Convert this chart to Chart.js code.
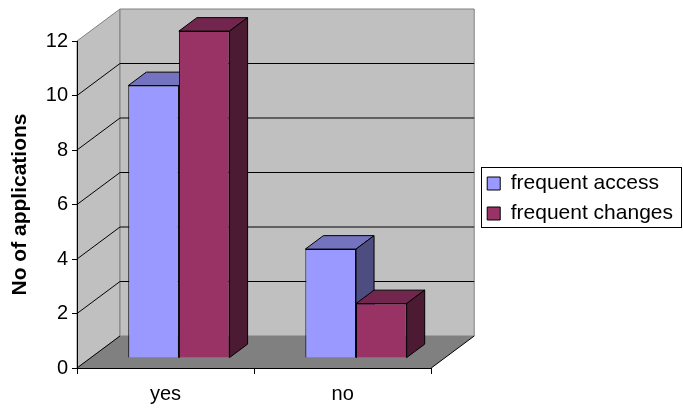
<!DOCTYPE html>
<html lang="en">
<head>
<meta charset="UTF-8">
<title>No of applications</title>
<style>
  body { margin: 0; background: #fff; }
  .chart-box { width: 683px; height: 410px; position: relative; }
</style>
<script src="https://cdn.jsdelivr.net/npm/chart.js"></script>
</head>
<body>
<div class="chart-box"><canvas id="apps-chart"></canvas></div>
<script>
const categories = ['yes', 'no'];
const seriesNames = ['frequent access', 'frequent changes'];
const frequentAccess = [10, 4];
const frequentChanges = [12, 2];
const yMin = 0, yMax = 12, yStep = 2;

// front, top and side shades of each series
const accessColors = ['#9999ff', '#7373bf', '#4d4d80'];
const changesColors = ['#993366', '#73264d', '#4d1a33'];

const FONT = "'Liberation Sans', Arial, sans-serif";
const DEPTH_X = 43, DEPTH_Y = -32;  // depth of floor and walls
const BAR_FRONT = 0.31;             // how far back the bars stand
const BAR_DEPTH = 0.42;             // how deep the bars are

Chart.defaults.font.family = FONT;
Chart.defaults.color = '#000';

function poly(ctx, pts, fill, stroke) {
    ctx.beginPath();
    ctx.moveTo(pts[0][0], pts[0][1]);
    for (let i = 1; i < pts.length; i++) ctx.lineTo(pts[i][0], pts[i][1]);
    ctx.closePath();
    if (fill) { ctx.fillStyle = fill; ctx.fill(); }
    if (stroke) { ctx.strokeStyle = stroke; ctx.lineWidth = 1; ctx.stroke(); }
}

const boxPlugin = {
    id: 'box3d',
    afterLayout(chart) {
        // lift the legend a little above centre
        chart.legend.top -= 6;
        chart.legend.bottom -= 6;
    },
    beforeDraw(chart) {
        const ctx = chart.ctx;
        const x = chart.scales.x, y = chart.scales.y;
        const x0 = x.left, x1 = x.right;
        const yb = y.getPixelForValue(yMin), yt = y.getPixelForValue(yMax);
        const dx = DEPTH_X, dy = DEPTH_Y;

        ctx.save();
        // side wall
        poly(ctx, [[x0, yb], [x0 + dx, yb + dy], [x0 + dx, yt + dy], [x0, yt]], '#c0c0c0', '#808080');
        // back wall
        poly(ctx, [[x0 + dx, yb + dy], [x1 + dx, yb + dy], [x1 + dx, yt + dy], [x0 + dx, yt + dy]], '#c0c0c0', '#808080');
        // floor
        poly(ctx, [[x0, yb], [x1, yb], [x1 + dx, yb + dy], [x0 + dx, yb + dy]], '#808080', null);
        ctx.strokeStyle = '#000';
        ctx.lineWidth = 1;
        ctx.beginPath();
        ctx.moveTo(x0, yb); ctx.lineTo(x0 + dx, yb + dy);
        ctx.moveTo(x1, yb); ctx.lineTo(x1 + dx, yb + dy);
        ctx.stroke();

        // grid lines across both walls
        ctx.beginPath();
        for (let v = yMin + yStep; v < yMax; v += yStep) {
            const py = y.getPixelForValue(v);
            ctx.moveTo(x0, py);
            ctx.lineTo(x0 + dx, py + dy);
            ctx.lineTo(x1 + dx, py + dy);
        }
        ctx.stroke();
        ctx.restore();
    },
    beforeDatasetsDraw(chart) {
        const ctx = chart.ctx;
        ctx.save();
        ctx.translate(DEPTH_X * BAR_FRONT, DEPTH_Y * BAR_FRONT);

        // top and side faces, left to right, before the fronts go on
        const bars = [];
        chart.data.datasets.forEach((ds, i) => {
            chart.getDatasetMeta(i).data.forEach(el => bars.push({ el, ds }));
        });
        bars.sort((a, b) => a.el.x - b.el.x);

        const dx = DEPTH_X * BAR_DEPTH, dy = DEPTH_Y * BAR_DEPTH;
        bars.forEach(({ el, ds }) => {
            const l = el.x - el.width / 2, r = el.x + el.width / 2;
            poly(ctx, [[l, el.y], [l + dx, el.y + dy], [r + dx, el.y + dy], [r, el.y]], ds.topColor, '#000');
            poly(ctx, [[r, el.y], [r + dx, el.y + dy], [r + dx, el.base + dy], [r, el.base]], ds.sideColor, '#000');
        });
    },
    afterDatasetsDraw(chart) {
        chart.ctx.restore();
    },
    afterDraw(chart) {
        // frame round the legend
        const boxes = chart.legend.legendHitBoxes;
        if (!boxes || !boxes.length) return;
        const first = boxes[0], last = boxes[boxes.length - 1];
        const left = Math.round(first.left) - 6 + 0.5;
        const top = Math.round(first.top) - 6 + 0.5;
        const right = chart.width - 1.5;
        const bottom = Math.round(last.top + last.height) + 3 + 0.5;
        const ctx = chart.ctx;
        ctx.save();
        ctx.strokeStyle = '#000';
        ctx.lineWidth = 1;
        ctx.strokeRect(left, top, right - left, bottom - top);
        ctx.restore();
    }
};

new Chart(document.getElementById('apps-chart'), {
    type: 'bar',
    data: {
        labels: categories,
        datasets: [{
            label: seriesNames[0],
            data: frequentAccess,
            backgroundColor: accessColors[0],
            topColor: accessColors[1],
            sideColor: accessColors[2],
            borderColor: '#000',
            borderWidth: 1,
            clip: false
        }, {
            label: seriesNames[1],
            data: frequentChanges,
            backgroundColor: changesColors[0],
            topColor: changesColors[1],
            sideColor: changesColors[2],
            borderColor: '#000',
            borderWidth: 1,
            clip: false
        }]
    },
    options: {
        responsive: true,
        maintainAspectRatio: false,
        animation: false,
        barPercentage: 1,
        categoryPercentage: 0.572,
        layout: { padding: { top: 41, left: 0, right: 0, bottom: 0 } },
        plugins: {
            tooltip: { enabled: false },
            legend: {
                position: 'right',
                fullSize: false,
                maxWidth: 240,
                labels: {
                    font: { size: 21 },
                    color: '#000',
                    boxWidth: 13,
                    boxHeight: 13,
                    padding: 9
                }
            }
        },
        scales: {
            x: {
                grid: { drawOnChartArea: false, drawTicks: true, tickLength: 6, color: '#000', offset: true },
                border: { color: '#000' },
                ticks: { font: { size: 20 }, color: '#000', padding: 8 },
                afterFit(s) { s.height = 42; }
            },
            y: {
                min: yMin,
                max: yMax,
                grid: { drawOnChartArea: false, drawTicks: true, tickLength: 5, color: '#000' },
                border: { color: '#000' },
                ticks: { stepSize: yStep, font: { size: 20 }, color: '#000', padding: 4 },
                title: {
                    display: true,
                    text: 'No of applications',
                    font: { size: 21, weight: 'bold' },
                    color: '#000',
                    padding: { top: 8, bottom: 0 }
                },
                afterFit(s) { s.width = 77; }
            },
            // empty axis that keeps a gap before the legend
            gap: {
                type: 'linear',
                position: 'right',
                grid: { display: false },
                border: { display: false },
                ticks: { display: false },
                afterFit(s) { s.width = 47; }
            }
        }
    },
    plugins: [boxPlugin]
});
</script>
</body>
</html>
